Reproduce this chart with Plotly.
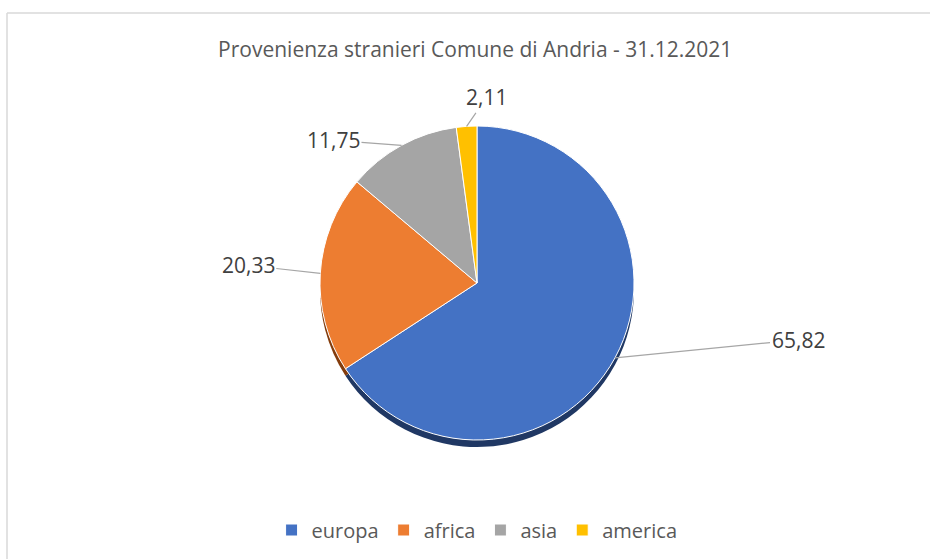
import math
import plotly.graph_objects as go

# ---- data ----
categories = ["europa", "africa", "asia", "america"]
values = [65.82, 20.33, 11.75, 2.11]
value_labels = ["65,82", "20,33", "11,75", "2,11"]
title_text = "Provenienza stranieri Comune di Andria - 31.12.2021"

# ---- style ----
colors = ["#4472C4", "#ED7D31", "#A5A5A5", "#FFC000"]
shadow_colors = ["#203864", "#843C0C", "#525252", "#7F6000"]
text_color = "#595959"
font_family = "Open Sans"
W, H = 930, 559
cx, cy, r = 477, 283, 157          # pie centre / radius in px
shadow_dy = 7
label_offsets = [(183, -18), (-72, -8), (-68, -5), (20, -29)]  # text offset from slice edge (px)


def dom(dy=0):
    return dict(x=[(cx - r) / W, (cx + r) / W],
                y=[1 - (cy + r + dy) / H, 1 - (cy - r + dy) / H])


fig = go.Figure()
# shadow (3D effect)
fig.add_trace(go.Pie(labels=categories, values=values, sort=False, direction="clockwise",
                     rotation=0, textinfo="none", hoverinfo="skip", showlegend=False,
                     marker=dict(colors=shadow_colors), domain=dom(shadow_dy)))
fig.add_trace(go.Pie(labels=categories, values=values, sort=False, direction="clockwise",
                     rotation=0, textinfo="none", marker=dict(colors=colors,
                     line=dict(color="white", width=1)), domain=dom()))

# labels with leader lines
total = sum(values)
cum = 0
for v, lab, (ox, oy) in zip(values, value_labels, label_offsets):
    mid = (cum + v / 2) / total * 2 * math.pi
    cum += v
    ex = cx + r * math.sin(mid)
    ey = cy - r * math.cos(mid)
    fig.add_annotation(x=ex / W, y=1 - ey / H, xref="paper", yref="paper",
                       text=lab, showarrow=True, arrowhead=0, arrowwidth=1.2,
                       arrowcolor="#A6A6A6", ax=ox, ay=oy,
                       font=dict(family=font_family, size=21, color="#404040"))

# chart border (only top and left edges visible in the crop)
bx, by = 7 / W, 1 - 13 / H
fig.add_shape(type="line", xref="paper", yref="paper", x0=bx, y0=by, x1=1, y1=by,
              line=dict(color="#D9D9D9", width=1.5))
fig.add_shape(type="line", xref="paper", yref="paper", x0=bx, y0=by, x1=bx, y1=0,
              line=dict(color="#D9D9D9", width=1.5))

fig.update_layout(
    width=W, height=H,
    margin=dict(l=0, r=0, t=0, b=0),
    paper_bgcolor="white", plot_bgcolor="white",
    title=dict(text=title_text, x=0.511, y=1 - 50 / H, xanchor="center", yanchor="middle",
               font=dict(family=font_family, size=21, color=text_color)),
    legend=dict(orientation="h", x=0.513, xanchor="center", y=1 - 530 / H, yanchor="middle",
                font=dict(family=font_family, size=20, color=text_color), traceorder="normal"),
    font=dict(family=font_family),
)

fig.write_html("out.html", config={"displayModeBar": False},
               post_script="document.body.style.margin='0';")
